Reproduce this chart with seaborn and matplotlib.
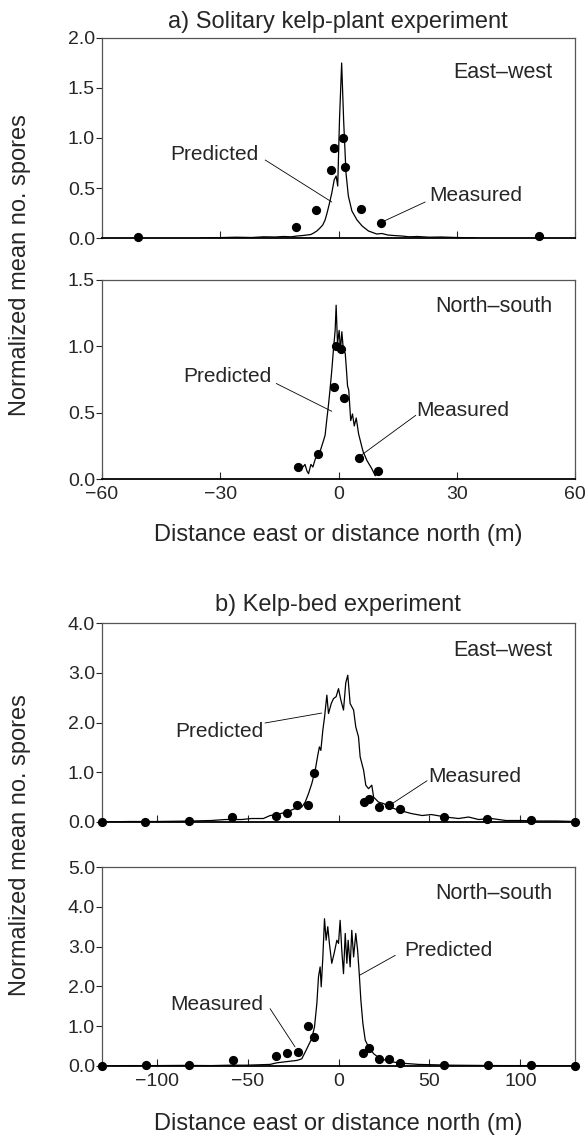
import matplotlib
matplotlib.use("Agg")
import matplotlib.pyplot as plt
import seaborn as sns

sns.set_style("ticks")
plt.rcParams['font.family'] = ['Liberation Sans', 'DejaVu Sans']

# ---------------- a) solitary kelp plant, east-west ----------------
a_ew_pred_x = [-35, -30, -26, -22, -19, -16, -14, -12, -10.5, -9, -8, -7, -6.3, -5.5,
               -4.7, -4, -3.4, -2.9, -2.4, -1.7, -1.1, -0.6, -0.2, 0.25, 0.8, 1.3, 1.9,
               2.5, 3.4, 4.7, 6.0, 7.6, 9.7, 11, 12.5, 14, 16, 18, 20, 23, 26, 30, 35]
a_ew_pred_y = [0.0, 0.004, 0.008, 0.005, 0.012, 0.01, 0.015, 0.012, 0.02, 0.025, 0.03,
               0.035, 0.05, 0.07, 0.1, 0.13, 0.18, 0.25, 0.33, 0.45, 0.58, 0.62, 0.52,
               1.18, 1.75, 1.18, 0.65, 0.42, 0.27, 0.18, 0.12, 0.07, 0.04, 0.045, 0.03,
               0.025, 0.02, 0.012, 0.015, 0.008, 0.01, 0.005, 0.0]
a_ew_meas_x = [-50.8, -10.7, -5.75, -1.85, -1.2, 1.15, 1.7, 5.7, 10.7, 50.9]
a_ew_meas_y = [0.01, 0.11, 0.28, 0.68, 0.9, 1.0, 0.71, 0.29, 0.15, 0.02]

# ---------------- a) solitary kelp plant, north-south ----------------
a_ns_pred_x = [-9.05, -8.5, -8.0, -7.6, -7.0, -6.5, -5.9, -4.65, -3.8, -3.4, -3.0, -2.5,
               -2.1, -1.7, -1.3, -0.85, -0.6, -0.25, 0.17, 0.5, 0.85, 1.27, 1.7, 1.95,
               2.3, 2.6, 3.1, 3.55, 4.0, 4.5, 5.1, 6.2, 7.2, 8.5, 9.3, 10.2]
a_ns_pred_y = [0.09, 0.11, 0.06, 0.04, 0.11, 0.09, 0.15, 0.21, 0.29, 0.33, 0.44, 0.57,
               0.69, 0.82, 0.97, 1.12, 1.31, 1.02, 1.12, 0.97, 1.11, 0.96, 0.95, 0.85,
               0.7, 0.67, 0.44, 0.49, 0.4, 0.46, 0.34, 0.21, 0.14, 0.075, 0.025, 0.05]
a_ns_meas_x = [-10.15, -5.2, -1.2, -0.75, 0.75, 1.27, 5.25, 9.9]
a_ns_meas_y = [0.09, 0.19, 0.69, 1.0, 0.98, 0.61, 0.155, 0.06]

# ---------------- b) kelp bed, east-west ----------------
b_ew_pred_x = [-130, -115, -100, -90, -81, -70, -62, -53, -48, -41.3, -37.6, -33.9, -28.4,
               -23.9, -20.2, -18.3, -16.5, -14.7, -12.8, -11.4, -10.5, -9.7, -8.6, -7.7,
               -6.4, -5.5, -4.0, -2.75, -1.3, 0, 1.3, 2.75, 4.0, 5.1, 6.4, 8.3, 9.5, 11,
               11.9, 13.8, 15, 16.5, 18.3, 19.3, 22, 24.8, 28.4, 32, 35, 40, 46, 51, 59,
               66, 71.5, 77, 84, 92, 100, 110, 120, 130]
b_ew_pred_y = [0.0, 0.01, 0.01, 0.015, 0.02, 0.03, 0.05, 0.05, 0.07, 0.07, 0.13, 0.15,
               0.2, 0.27, 0.3, 0.4, 0.57, 0.77, 1.04, 1.34, 1.51, 1.44, 1.85, 2.1, 2.55,
               2.18, 2.38, 2.48, 2.52, 2.68, 2.45, 2.25, 2.8, 2.95, 2.38, 2.25, 1.91,
               1.71, 1.31, 1.04, 0.74, 0.67, 0.74, 0.5, 0.4, 0.37, 0.3, 0.25, 0.22, 0.17,
               0.13, 0.15, 0.1, 0.07, 0.1, 0.05, 0.07, 0.03, 0.03, 0.02, 0.02, 0.01]
b_ew_meas_x = [-130, -106.3, -82, -58.7, -34.4, -28.4, -22.6, -16.9, -13.4, 13.8, 16.5,
               22, 27.9, 34, 58.1, 81.6, 106, 130]
b_ew_meas_y = [0.0, 0.01, 0.03, 0.11, 0.13, 0.18, 0.35, 0.34, 0.99, 0.41, 0.47, 0.3,
               0.34, 0.27, 0.1, 0.07, 0.04, 0.01]

# ---------------- b) kelp bed, north-south ----------------
b_ns_pred_x = [-130, -115, -100, -85, -70, -60, -50.5, -44, -37.6, -33.9, -30.3, -26.6,
               -22.9, -20.2, -18.3, -16.5, -14.7, -13.2, -11.9, -11.0, -10.1, -9.5,
               -8.6, -7.7, -6.8, -5.9, -5.0, -3.7, -2.4, -0.9, 0, 0.9, 1.8, 2.75, 3.7,
               4.6, 5.3, 6.4, 7.3, 8.3, 9.5, 10.5, 11.4, 12.3, 13.4, 14.7, 16.5, 19.3,
               22.9, 26.6, 30, 35, 44, 53, 62, 75, 90, 110, 130]
b_ns_pred_y = [0.0, 0.01, 0.01, 0.015, 0.01, 0.02, 0.02, 0.03, 0.04, 0.08, 0.1, 0.12,
               0.14, 0.18, 0.35, 0.52, 0.69, 0.98, 1.57, 2.24, 2.49, 1.99, 2.74, 3.7,
               3.16, 3.5, 3.08, 2.58, 2.83, 3.16, 3.08, 3.66, 2.91, 2.32, 3.33, 2.58,
               3.16, 2.49, 3.41, 2.74, 3.33, 2.91, 2.32, 1.65, 1.07, 0.65, 0.48, 0.31,
               0.18, 0.14, 0.1, 0.07, 0.04, 0.03, 0.02, 0.015, 0.01, 0.01, 0.0]
b_ns_meas_x = [-130, -106, -82, -58.2, -34.3, -28.4, -22.5, -16.5, -13.2, 13.4, 16.5,
               22.5, 28, 34, 58.2, 82.2, 106, 130]
b_ns_meas_y = [0.0, 0.02, 0.02, 0.15, 0.25, 0.32, 0.36, 1.0, 0.73, 0.33, 0.45, 0.17,
               0.17, 0.07, 0.02, 0.02, 0.02, 0.0]

a_xticks = [-60, -30, 0, 30, 60]
b_xticks = [-100, -50, 0, 50, 100]

W, H = 587, 1137
fig = plt.figure(figsize=(W / 100, H / 100), dpi=100)


def box(l, t, r, b):
    return [l / W, 1 - b / H, (r - l) / W, (b - t) / H]


def panel(ax, name, px, py, mx, my, xlim, xticks, ylim, yticks, corner, notes, labels):
    sns.lineplot(x=px, y=py, ax=ax, color='black', linewidth=0.9,
                 sort=False, estimator=None)
    sns.scatterplot(x=mx, y=my, ax=ax, color='black', s=44, linewidth=0,
                    clip_on=False, zorder=5)
    ax.set_xlim(*xlim)
    ax.set_ylim(*ylim)
    ax.set_xticks(xticks)
    ax.set_yticks(yticks)
    ax.set_yticklabels([f"{v:.1f}" for v in yticks])
    ax.tick_params(axis='x', direction='in', length=5, width=0.8,
                   labelsize=14, pad=5, labelbottom=labels)
    ax.tick_params(axis='y', direction='out', length=4, width=0.8,
                   labelsize=14, pad=1)
    ax.set_xlabel('')
    ax.set_ylabel('')
    for side in ['top', 'right', 'left']:
        ax.spines[side].set_color('#555555')
        ax.spines[side].set_linewidth(0.9)
    ax.spines['bottom'].set_color('black')
    ax.spines['bottom'].set_linewidth(1.3)
    ax.text(0.953, corner, name, transform=ax.transAxes,
            ha='right', va='center', fontsize=15.5)
    for txt, tx, ty, ha, l0, l1 in notes:
        ax.text(tx, ty, txt, ha=ha, va='center', fontsize=15)
        ax.plot([l0[0], l1[0]], [l0[1], l1[1]], color='black', lw=0.6)


ax_a1 = fig.add_axes(box(102, 38, 575, 238))
ax_a2 = fig.add_axes(box(102, 280, 575, 479))
ax_b1 = fig.add_axes(box(102, 623, 575, 822))
ax_b2 = fig.add_axes(box(102, 867, 575, 1066))

panel(ax_a1, 'East\u2013west', a_ew_pred_x, a_ew_pred_y, a_ew_meas_x, a_ew_meas_y,
      (-60, 60), a_xticks, (0, 2.0), [0, 0.5, 1.0, 1.5, 2.0], 0.83,
      [('Predicted', -20.3, 0.84, 'right', (-18.6, 0.78), (-1.7, 0.36)),
       ('Measured', 23.0, 0.43, 'left', (22.0, 0.36), (11.6, 0.17))], False)
panel(ax_a2, 'North\u2013south', a_ns_pred_x, a_ns_pred_y, a_ns_meas_x, a_ns_meas_y,
      (-60, 60), a_xticks, (0, 1.5), [0, 0.5, 1.0, 1.5], 0.866,
      [('Predicted', -17.0, 0.77, 'right', (-15.8, 0.72), (-1.7, 0.51)),
       ('Measured', 19.8, 0.52, 'left', (19.6, 0.48), (5.8, 0.18))], True)
panel(ax_b1, 'East\u2013west', b_ew_pred_x, b_ew_pred_y, b_ew_meas_x, b_ew_meas_y,
      (-130, 130), b_xticks, (0, 4.0), [0, 1, 2, 3, 4], 0.86,
      [('Predicted', -41.3, 1.81, 'right', (-40.4, 1.99), (-9.2, 2.19)),
       ('Measured', 49.1, 0.91, 'left', (48.7, 0.83), (29.1, 0.36))], False)
panel(ax_b2, 'North\u2013south', b_ns_pred_x, b_ns_pred_y, b_ns_meas_x, b_ns_meas_y,
      (-130, 130), b_xticks, (0, 5.0), [0, 1, 2, 3, 4, 5], 0.866,
      [('Predicted', 36.3, 2.89, 'left', (31.2, 2.78), (11.6, 2.28)),
       ('Measured', -41.3, 1.55, 'right', (-37.6, 1.44), (-23.9, 0.48))], True)

fig.text(338 / W, 1 - 27.7 / H, 'a) Solitary kelp-plant experiment',
         ha='center', va='baseline', fontsize=17)
fig.text(338 / W, 1 - 610.7 / H, 'b) Kelp-bed experiment',
         ha='center', va='baseline', fontsize=17)
fig.text(338 / W, 1 - 535 / H, 'Distance east or distance north (m)',
         ha='center', va='center', fontsize=17)
fig.text(338 / W, 1 - 1124 / H, 'Distance east or distance north (m)',
         ha='center', va='center', fontsize=17)
fig.text(20 / W, 1 - 265 / H, 'Normalized mean no. spores', rotation=90,
         ha='center', va='center', fontsize=17)
fig.text(20 / W, 1 - 845 / H, 'Normalized mean no. spores', rotation=90,
         ha='center', va='center', fontsize=17)

fig.savefig('out.png', dpi=100)
